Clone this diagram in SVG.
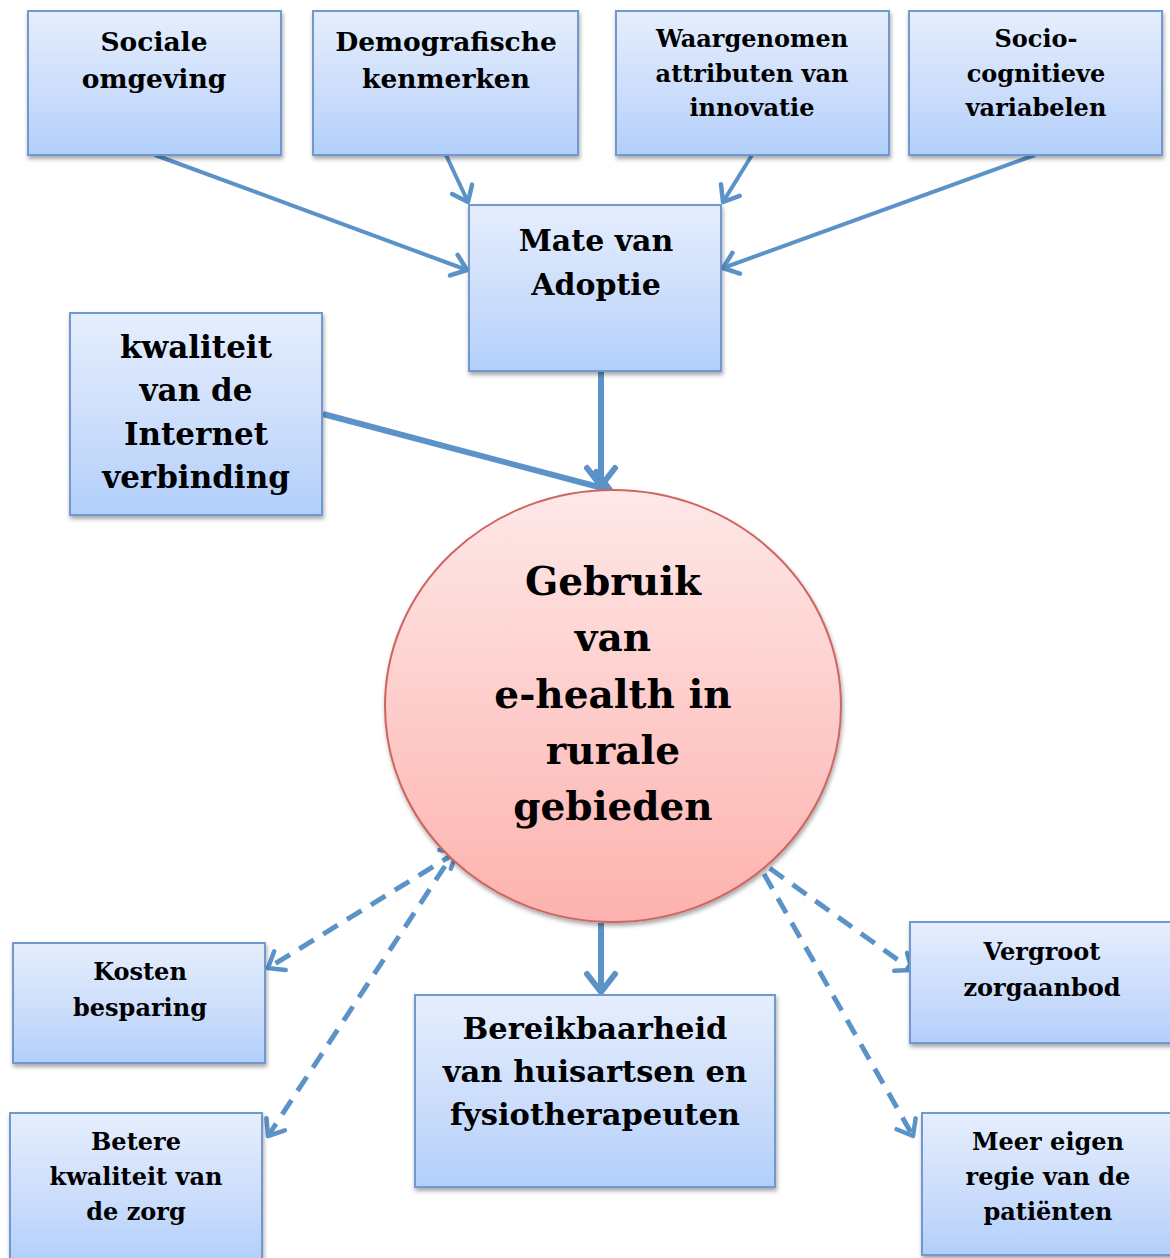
<svg xmlns="http://www.w3.org/2000/svg" width="1170" height="1258" viewBox="0 0 1170 1258">
<style>
.box{fill:url(#gBlue);stroke:#7299cf;stroke-width:2;filter:url(#sh)}
.t{font-family:"DejaVu Serif","Liberation Serif",serif;font-weight:bold;fill:#000;text-anchor:middle}
.c{fill:none;stroke:#5b93c9;stroke-width:4}
.d{fill:none;stroke:#5b93c9;stroke-width:5;stroke-dasharray:17 11}
</style>
<defs>
<linearGradient id="gBlue" x1="0" y1="0" x2="0" y2="1">
<stop offset="0" stop-color="#e5eefd"/>
<stop offset="0.6" stop-color="#cadcfb"/>
<stop offset="1" stop-color="#b1cffb"/>
</linearGradient>
<linearGradient id="gRed" x1="0" y1="0" x2="0" y2="1">
<stop offset="0" stop-color="#fee8e8"/>
<stop offset="1" stop-color="#fdb2ae"/>
</linearGradient>
<filter id="sh" x="-10%" y="-10%" width="120%" height="130%">
<feDropShadow dx="1" dy="3" stdDeviation="2" flood-color="#000" flood-opacity="0.35"/>
</filter>
<marker id="a" viewBox="-20 -14 24 28" markerWidth="24" markerHeight="28" refX="0" refY="0" orient="auto" markerUnits="userSpaceOnUse">
<path d="M-14,-11 L0,0 L-14,11" fill="none" stroke="#5b93c9" stroke-width="4.5" stroke-dasharray="none" stroke-linecap="round" stroke-linejoin="round"/>
</marker>
<marker id="aL" viewBox="-24 -18 28 36" markerWidth="28" markerHeight="36" refX="0" refY="0" orient="auto" markerUnits="userSpaceOnUse">
<path d="M-18,-14 L0,0 L-18,14" fill="none" stroke="#5b93c9" stroke-width="6" stroke-dasharray="none" stroke-linecap="round" stroke-linejoin="round"/>
</marker>
<marker id="aS" viewBox="-20 -14 24 28" markerWidth="24" markerHeight="28" refX="0" refY="0" orient="auto-start-reverse" markerUnits="userSpaceOnUse">
<path d="M-14,-11 L0,0 L-14,11" fill="none" stroke="#5b93c9" stroke-width="4.5" stroke-dasharray="none" stroke-linecap="round" stroke-linejoin="round"/>
</marker>
</defs>
<rect width="1170" height="1258" fill="#fff"/>

<g id="connectors">
<line class="c" x1="155" y1="155" x2="467" y2="270" marker-end="url(#a)"/>
<line class="c" x1="446" y1="155" x2="468" y2="202" marker-end="url(#a)"/>
<line class="c" x1="752" y1="155" x2="723" y2="202" marker-end="url(#a)"/>
<line class="c" x1="1035" y1="155" x2="723" y2="268" marker-end="url(#a)"/>
<line class="c" style="stroke-width:6" x1="601" y1="372" x2="601" y2="486" marker-end="url(#aL)"/>
<line class="c" style="stroke-width:6" x1="323" y1="414" x2="610" y2="490" marker-end="url(#aL)"/>
<line class="c" style="stroke-width:6" x1="601" y1="923" x2="601" y2="992" marker-end="url(#aL)"/>
<line class="d" x1="457" y1="852" x2="268" y2="968" marker-start="url(#aS)" marker-end="url(#aS)"/>
<line class="d" x1="445" y1="866" x2="268" y2="1136" marker-end="url(#aS)"/>
<line class="d" x1="747" y1="852" x2="912" y2="970" marker-start="url(#aS)" marker-end="url(#aS)"/>
<line class="d" x1="764" y1="874" x2="913" y2="1136" marker-end="url(#aS)"/>
</g>

<g id="sociale">
<rect class="box" x="28" y="11" width="253" height="144"/>
<text class="t" font-size="26.5"><tspan x="154" y="51">Sociale</tspan><tspan x="154" y="88">omgeving</tspan></text>
</g>
<g id="demografische">
<rect class="box" x="313" y="11" width="265" height="144"/>
<text class="t" font-size="26.5"><tspan x="446" y="51">Demografische</tspan><tspan x="446" y="88">kenmerken</tspan></text>
</g>
<g id="waargenomen">
<rect class="box" x="616" y="11" width="273" height="144"/>
<text class="t" font-size="24"><tspan x="752" y="47">Waargenomen</tspan><tspan x="752" y="82">attributen van</tspan><tspan x="752" y="116">innovatie</tspan></text>
</g>
<g id="socio">
<rect class="box" x="909" y="11" width="253" height="144"/>
<text class="t" font-size="24"><tspan x="1036" y="47">Socio-</tspan><tspan x="1036" y="82">cognitieve</tspan><tspan x="1036" y="116">variabelen</tspan></text>
</g>
<g id="mate">
<rect class="box" x="469" y="205" width="252" height="166"/>
<text class="t" font-size="30"><tspan x="596" y="251">Mate van</tspan><tspan x="596" y="295">Adoptie</tspan></text>
</g>
<g id="internet">
<rect class="box" x="70" y="313" width="252" height="202"/>
<text class="t" font-size="31"><tspan x="196" y="358">kwaliteit</tspan><tspan x="196" y="401">van de</tspan><tspan x="196" y="445">Internet</tspan><tspan x="196" y="488">verbinding</tspan></text>
</g>
<g id="gebruik">
<ellipse cx="613" cy="706" rx="228" ry="216" fill="url(#gRed)" stroke="#cf6560" stroke-width="2" filter="url(#sh)"/>
<text class="t" font-size="39"><tspan x="613" y="595">Gebruik</tspan><tspan x="613" y="651">van</tspan><tspan x="613" y="708">e-health in</tspan><tspan x="613" y="764">rurale</tspan><tspan x="613" y="820">gebieden</tspan></text>
</g>
<g id="kosten">
<rect class="box" x="13" y="943" width="252" height="120"/>
<text class="t" font-size="24"><tspan x="140" y="980">Kosten</tspan><tspan x="140" y="1016">besparing</tspan></text>
</g>
<g id="betere">
<rect class="box" x="10" y="1113" width="252" height="150"/>
<text class="t" font-size="24"><tspan x="136" y="1150">Betere</tspan><tspan x="136" y="1185">kwaliteit van</tspan><tspan x="136" y="1220">de zorg</tspan></text>
</g>
<g id="bereikbaarheid">
<rect class="box" x="415" y="995" width="360" height="192"/>
<text class="t" font-size="30.5"><tspan x="595" y="1039">Bereikbaarheid</tspan><tspan x="595" y="1082">van huisartsen en</tspan><tspan x="595" y="1125">fysiotherapeuten</tspan></text>
</g>
<g id="vergroot">
<rect class="box" x="910" y="922" width="265" height="121"/>
<text class="t" font-size="24"><tspan x="1042" y="960">Vergroot</tspan><tspan x="1042" y="996">zorgaanbod</tspan></text>
</g>
<g id="meer">
<rect class="box" x="922" y="1113" width="253" height="142"/>
<text class="t" font-size="24"><tspan x="1048" y="1150">Meer eigen</tspan><tspan x="1048" y="1185">regie van de</tspan><tspan x="1048" y="1220">patiënten</tspan></text>
</g>
</svg>
